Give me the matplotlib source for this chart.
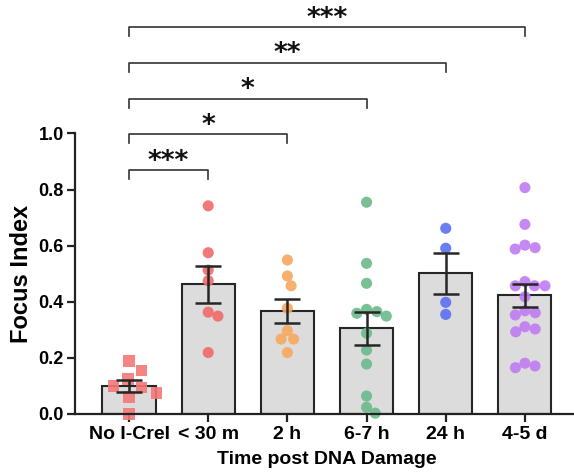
import numpy as np
import matplotlib
matplotlib.use('Agg')
import matplotlib.pyplot as plt

plt.rcParams['font.family'] = ['Liberation Sans', 'DejaVu Sans']
plt.rcParams['font.weight'] = 'bold'

categories = ['No I-CreI', '< 30 m', '2 h', '6-7 h', '24 h', '4-5 d']

no_icrei = [0.19, 0.155, 0.125, 0.10, 0.095, 0.075, 0.06, 0.0]
lt_30m = [0.742, 0.575, 0.513, 0.475, 0.363, 0.349, 0.219]
h2 = [0.549, 0.492, 0.457, 0.377, 0.297, 0.267, 0.267, 0.219]
h6_7 = [0.755, 0.537, 0.466, 0.373, 0.365, 0.359, 0.349, 0.288, 0.228,
        0.178, 0.064, 0.024, 0.003]
h24 = [0.662, 0.591, 0.398, 0.355]
d4_5 = [0.807, 0.676, 0.602, 0.593, 0.588, 0.472, 0.457, 0.457, 0.457,
        0.418, 0.368, 0.361, 0.353, 0.311, 0.303, 0.293, 0.181, 0.171, 0.165]
groups = [no_icrei, lt_30m, h2, h6_7, h24, d4_5]

means = [0.10, 0.462, 0.366, 0.305, 0.501, 0.423]
sems = [0.022, 0.066, 0.043, 0.060, 0.074, 0.040]

colors = ['#f47878', '#f26a6a', '#f8a860', '#6cb98a', '#5b6ff2', '#c07cf2']
markers = ['s', 'o', 'o', 'o', 'o', 'o']

# (compared group, stars, bracket height)
brackets = [(1, '***', 0.870), (2, '*', 0.998), (3, '*', 1.124),
            (4, '**', 1.252), (5, '***', 1.379)]


def swarm(y_px, d):
    placed = []
    offs = []
    for y in y_px:
        cands = [0.0]
        for px, py in placed:
            dy = y - py
            if abs(dy) < d:
                dx = np.sqrt(d ** 2 - dy ** 2)
                cands += [px + dx, px - dx]
        cands.sort(key=abs)
        for c in cands:
            if all((c - px) ** 2 + (y - py) ** 2 >= d ** 2 - 1e-6 for px, py in placed):
                break
        placed.append((c, y))
        offs.append(c)
    return offs


fig = plt.figure(figsize=(5.74, 4.72), dpi=100)
ax = fig.add_axes([0.1307, 0.1229, 0.8693, 0.5943])
ax.set_xlim(-0.682, 5.62)
ax.set_ylim(0, 1.0)

x = np.arange(len(categories))
ax.bar(x, means, width=0.67, color='#dcdcdc', edgecolor='#262626',
       linewidth=1.5, zorder=1)

px_x = ax.bbox.width / (5.62 + 0.682)
px_y = ax.bbox.height / 1.0
for i, vals in enumerate(groups):
    vals = np.array(vals)
    d = 16 if markers[i] == 's' else 10.5
    offs = np.array(swarm(vals * px_y, d)) / px_x
    ax.scatter(x[i] + offs, vals, s=64 if markers[i] == 'o' else 70,
               marker=markers[i], color=colors[i], alpha=0.9,
               edgecolors='none', zorder=2, clip_on=False)

ax.errorbar(x, means, yerr=sems, fmt='none', ecolor='#262626',
            elinewidth=1.8, capsize=9.5, capthick=1.8, zorder=3)

for j, stars, yb in brackets:
    ax.plot([0, 0, j, j], [yb - 0.032, yb, yb, yb - 0.032], color='#333333',
            linewidth=1.2, clip_on=False, zorder=4)
    ax.text(j / 2, yb + 0.03, stars, ha='center', va='center',
            fontsize=19, fontweight='bold', color='#111111',
            family='DejaVu Sans')

for s in ['top', 'right']:
    ax.spines[s].set_visible(False)
for s in ['left', 'bottom']:
    ax.spines[s].set_linewidth(1.6)
    ax.spines[s].set_color('#222222')

ax.set_yticks([0, 0.2, 0.4, 0.6, 0.8, 1.0])
ax.set_yticklabels(['0.0', '0.2', '0.4', '0.6', '0.8', '1.0'])
ax.set_xticks(x)
ax.set_xticklabels(categories)
ax.tick_params(axis='both', width=1.6, length=6, color='#222222')
ax.tick_params(axis='y', labelsize=13, pad=2)
ax.tick_params(axis='x', labelsize=14, pad=3)

ax.set_ylabel('Focus Index', fontsize=17, fontweight='bold')
ax.yaxis.set_label_coords(-0.085, 0.5)
ax.set_xlabel('Time post DNA Damage', fontsize=14, fontweight='bold')
ax.xaxis.set_label_coords(0.504, -0.132)

fig.savefig('out.png', dpi=100)
